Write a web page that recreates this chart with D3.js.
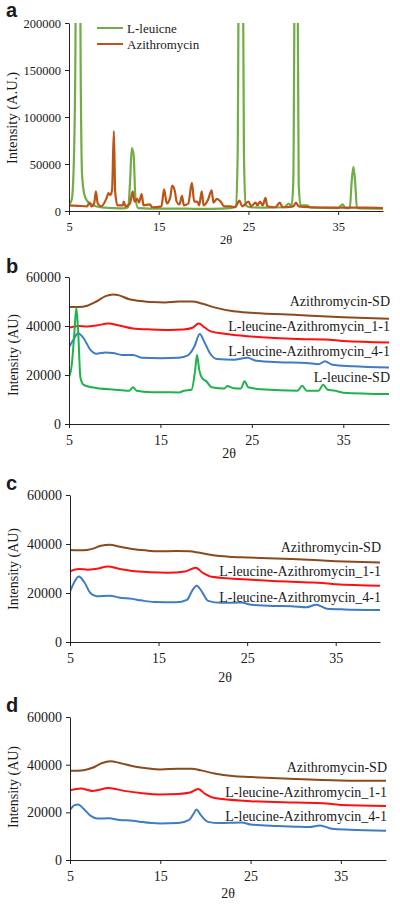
<!DOCTYPE html>
<html><head><meta charset="utf-8">
<script src="https://cdn.jsdelivr.net/npm/d3@7"></script>
<style>
html,body{margin:0;padding:0;background:#fff;}
svg{display:block;}
text{font-family:"Liberation Serif","Times New Roman",serif;fill:#1a1a1a;}
</style></head>
<body>
<svg id="chart" width="400" height="906"></svg>
<script>
// ---------- DATA ----------
const xTicks = [5, 15, 25, 35];
const yTicksA = [0, 50000, 100000, 150000, 200000];
const yTicksBCD = [0, 20000, 40000, 60000];
const panelLetters = ["a", "b", "c", "d"];
const legendA = ["L-leuicne", "Azithromycin"];
const seriesNamesB = ["Azithromycin-SD", "L-leucine-Azithromycin_1-1", "L-leucine-Azithromycin_4-1", "L-leucine-SD"];
const seriesNamesCD = ["Azithromycin-SD", "L-leucine-Azithromycin_1-1", "L-leucine-Azithromycin_4-1"];

// Panel a: raw powders [2θ, intensity]
const aLeucine = [[5,7000],[5.3,12000],[5.5,40000],[5.7,150000],[5.85,400000],[6.15,400000],[6.3,150000],[6.45,40000],[6.7,18000],[7.0,11000],[7.5,7000],[8,5000],[9,3500],[10,3000],[11,2800],[11.6,4000],[11.8,30000],[12.0,67000],[12.2,60000],[12.4,15000],[12.7,3000],[14,2500],[16,2500],[18,2500],[20,2200],[22,2500],[23,3000],[23.6,5000],[23.8,60000],[24.0,400000],[24.3,400000],[24.5,60000],[24.7,6000],[25.2,4000],[27,3500],[29,4000],[29.5,8000],[29.8,5000],[30.0,30000],[30.2,300000],[30.45,300000],[30.6,30000],[30.8,6000],[31.5,6000],[32,3500],[35,3000],[35.5,7000],[35.8,3000],[36.3,3000],[36.5,30000],[36.7,47000],[36.9,30000],[37.1,3000],[40,2500]];
const aAzithro = [[5,6000],[6,5500],[7,5000],[7.3,9000],[7.5,5000],[7.8,8000],[8.0,21000],[8.2,8000],[8.6,5000],[9.2,14000],[9.4,19000],[9.6,17000],[9.8,22000],[10.0,85000],[10.15,20000],[10.4,6000],[11.0,6000],[11.1,10000],[11.3,5000],[11.8,8000],[12.1,21000],[12.3,10000],[12.6,13000],[12.8,9000],[13.1,18000],[13.3,6000],[14.0,7000],[14.3,4000],[15.3,5000],[15.6,23000],[15.9,8000],[16.3,15000],[16.5,27000],[16.8,21000],[17.0,10000],[17.3,7000],[17.6,16000],[17.8,6000],[18.3,8000],[18.7,30000],[18.95,10000],[19.3,10000],[19.5,6000],[19.8,21000],[20.0,6000],[20.5,12000],[20.9,22000],[21.1,9000],[21.5,13000],[21.9,10000],[22.3,5000],[23,5000],[23.5,4000],[24.0,11000],[24.3,5000],[25.0,10000],[25.3,5000],[25.8,9000],[26.0,6000],[26.3,10000],[26.6,6000],[26.9,14000],[27.1,5000],[28,4000],[28.5,9000],[28.8,4000],[30,5000],[30.3,9000],[30.6,5000],[32,4000],[34,3500],[36,3500],[38,3500],[40,3000]];

// Panel b
const bAzithroSD = [[5,47800],[6,47800],[7,48300],[8,50000],[9,52200],[9.8,52900],[10.5,52500],[11.5,51000],[12.5,50300],[14,49800],[15.5,49600],[17,50000],[18.5,50000],[19.5,49200],[21,47500],[23,46000],[25,45400],[30,44500],[35,43600],[40,43000]];
const bLeuAzi11 = [[5,39300],[6,40000],[7,39800],[8,40200],[9.3,41000],[10.5,40200],[12,39000],[14,38600],[16,38400],[17.5,38600],[18.5,39300],[19.2,41000],[19.8,39500],[20.5,37800],[22,36800],[25,35700],[28,35000],[30,34700],[33,34500],[35,33900],[40,33300]];
const bLeuAzi41 = [[5,31300],[5.5,34500],[6.0,37000],[6.6,35000],[7.3,30500],[8,28700],[9,29200],[9.8,29000],[10.8,28200],[12,28200],[13,27000],[15,26800],[17,27000],[18,28000],[18.7,31500],[19.3,36700],[19.8,33500],[20.4,29000],[21.2,26500],[23,26200],[24.5,27000],[25.5,25800],[28,25200],[31,24900],[32.3,24400],[33,25600],[33.8,24200],[36,23600],[40,23100]];
const bLeucineSD = [[5,19000],[5.3,24000],[5.6,38000],[5.8,47300],[6.0,38000],[6.25,19000],[6.6,16000],[7.5,15000],[10,14000],[11.6,13600],[12,15000],[12.4,13600],[14,13000],[17,12900],[17.6,13600],[18.4,14000],[18.8,22000],[19.0,28200],[19.25,22000],[19.6,18500],[20,17500],[20.6,15000],[22,14500],[22.3,15500],[23,14600],[23.8,14500],[24.2,17500],[24.6,15000],[26,14200],[30,13600],[30.5,15600],[31,13600],[32.3,13600],[32.8,16000],[33.3,14000],[34,13700],[35,12800],[40,12200]];

// Panel c
const cAzithroSD = [[5,37600],[6.5,37400],[7.5,38000],[8.5,39300],[9.5,39700],[10.5,39000],[12,38000],[13.5,37400],[15,37000],[17,37100],[18.5,37000],[19.5,36500],[21,35500],[23,34800],[25,34500],[30,33900],[35,33000],[40,32400]];
const cLeuAzi11 = [[5,28800],[6,29800],[7,29500],[8,29900],[9.3,30800],[10.5,29900],[12,29000],[14,28500],[16,28300],[18,28800],[19.2,30300],[20,28200],[21,26600],[25,25500],[30,24600],[32,24300],[33,24200],[35,23600],[40,23000]];
const cLeuAzi41 = [[5,20600],[5.5,24500],[6.0,26700],[6.6,24500],[7.3,20000],[8,18700],[9.5,18900],[10.5,18200],[12,17600],[13,17000],[14.5,16300],[17,16200],[18.2,17200],[18.8,21000],[19.3,23000],[19.9,20500],[20.6,16800],[22,16000],[24.3,16100],[25.5,15200],[28,14700],[30,14600],[31.7,14200],[32.8,15200],[34,13600],[36,13300],[40,13100]];

// Panel d
const dAzithroSD = [[5,37400],[6.5,37700],[7.5,38700],[8.5,40600],[9.5,41400],[10.5,40700],[12,39300],[13.5,38500],[15,38000],[17,38300],[18.5,38300],[19.5,37600],[21,36300],[23,35200],[25,34800],[30,34000],[35,33400],[40,33200]];
const dLeuAzi11 = [[5,29300],[6.2,30000],[7.5,29000],[9.3,30200],[11,29000],[13,28000],[15,27500],[17,27700],[18.3,28300],[19.2,29800],[20,27600],[21,26000],[25,24700],[30,24100],[33,23800],[35,23100],[40,22700]];
const dLeuAzi41 = [[5,20900],[5.5,23000],[5.9,23300],[6.5,21500],[7.3,18500],[8,17400],[9.3,17500],[10.5,16800],[12,16500],[13,15900],[15,15300],[17,15500],[18.2,16800],[18.7,19500],[19.0,21200],[19.5,18800],[20.3,16000],[21.5,15500],[24,15700],[25,14900],[28,14300],[30,14000],[31.5,13800],[32.7,14500],[34,13100],[36,12700],[40,12300]];

// ---------- DRAW ----------
const svg = d3.select("#chart");
const AX = "#222";

function drawPanel(p) {
  const x = d3.scaleLinear().domain([5, 40]).range([p.x0, p.x1]);
  const y = d3.scaleLinear().domain([0, p.yMax]).range([p.yb, p.yt]);
  const g = svg.append("g");
  const clipId = "clip" + p.letter;
  svg.append("clipPath").attr("id", clipId).append("rect")
    .attr("x", p.x0).attr("y", p.yt).attr("width", p.x1 - p.x0 + 2).attr("height", p.yb - p.yt);

  const line = d3.line().x(d => x(d[0])).y(d => y(d[1])).curve(d3.curveMonotoneX);
  p.series.forEach(s => {
    g.append("path").datum(s.data).attr("d", line)
      .attr("fill", "none").attr("stroke", s.color).attr("stroke-width", p.lw)
      .attr("stroke-linejoin", "round").attr("clip-path", `url(#${clipId})`);
  });

  const xa = g.append("g").attr("transform", `translate(0,${p.yb})`)
    .call(d3.axisBottom(x).tickValues(xTicks).tickSize(4).tickPadding(7).tickSizeOuter(0));
  const ya = g.append("g").attr("transform", `translate(${p.x0},0)`)
    .call(d3.axisLeft(y).tickValues(p.yTicks).tickSize(4).tickPadding(4).tickSizeOuter(0).tickFormat(d3.format("d")));
  [xa, ya].forEach(a => {
    a.selectAll("path,line").attr("stroke", AX).attr("stroke-width", 1);
    a.selectAll("text").attr("font-family", '"Liberation Serif",serif').attr("font-size", p.fs).attr("fill", "#1a1a1a");
  });
  g.append("text").attr("x", (p.x0 + p.x1) / 2).attr("y", p.xTitleY).attr("text-anchor", "middle")
    .attr("font-size", p.fs).text("2θ");
  g.append("text").attr("transform", `translate(${p.yTitleX},${p.yTitleCY}) rotate(-90)`)
    .attr("text-anchor", "middle").attr("dominant-baseline", "central").attr("font-size", p.yfs).text(p.yTitle);
  g.append("text").attr("x", 6).attr("y", p.letterY)
    .style("font-family", '"Liberation Sans",Arial,sans-serif').attr("font-weight", "bold").attr("font-size", 20)
    .attr("fill", "#000").text(p.letter);

  if (p.labels) {
    p.labels.forEach(l => {
      g.append("text").attr("x", p.x1 + 1).attr("y", l.y).attr("text-anchor", "end")
        .attr("dominant-baseline", "central").attr("font-size", 14).text(l.text);
    });
  }
  if (p.legend) {
    p.legend.forEach(l => {
      g.append("line").attr("x1", 97).attr("x2", 123).attr("y1", l.y).attr("y2", l.y)
        .attr("stroke", l.color).attr("stroke-width", 2);
      g.append("text").attr("x", 127).attr("y", l.y).attr("dominant-baseline", "central")
        .attr("font-size", 13).text(l.text);
    });
  }
}

const cBrownA = "#bd5316", cGreenA = "#70ad47";
const cBrown = "#8b4a1c", cRed = "#ff1010", cBlue = "#3f7cc4", cGreen = "#1db34a";

drawPanel({letter: panelLetters[0], x0: 69, x1: 383, yb: 211, yt: 23, yMax: 200000, yTicks: yTicksA, fs: 12.5, yfs: 14.5, lw: 2.2,
  xTitleY: 244, yTitle: "Intensity (A.U.)", yTitleX: 12, yTitleCY: 118, letterY: 17,
  series: [{data: aLeucine, color: cGreenA}, {data: aAzithro, color: cBrownA}],
  legend: [{text: legendA[0], color: cGreenA, y: 28}, {text: legendA[1], color: cBrownA, y: 44}]});

drawPanel({letter: panelLetters[1], x0: 69, x1: 389, yb: 424, yt: 277, yMax: 60000, yTicks: yTicksBCD, fs: 14, yfs: 14, lw: 2,
  xTitleY: 458, yTitle: "Intensity (AU)", yTitleX: 13, yTitleCY: 355, letterY: 273,
  series: [{data: bAzithroSD, color: cBrown}, {data: bLeuAzi11, color: cRed}, {data: bLeuAzi41, color: cBlue}, {data: bLeucineSD, color: cGreen}],
  labels: [{text: seriesNamesB[0], y: 301}, {text: seriesNamesB[1], y: 326}, {text: seriesNamesB[2], y: 351}, {text: seriesNamesB[3], y: 377}]});

drawPanel({letter: panelLetters[2], x0: 70, x1: 380, yb: 642, yt: 495, yMax: 60000, yTicks: yTicksBCD, fs: 14, yfs: 14, lw: 2,
  xTitleY: 682, yTitle: "Intensity (AU)", yTitleX: 13, yTitleCY: 569, letterY: 490,
  series: [{data: cAzithroSD, color: cBrown}, {data: cLeuAzi11, color: cRed}, {data: cLeuAzi41, color: cBlue}],
  labels: [{text: seriesNamesCD[0], y: 547}, {text: seriesNamesCD[1], y: 571}, {text: seriesNamesCD[2], y: 597}]});

drawPanel({letter: panelLetters[3], x0: 70, x1: 386, yb: 860, yt: 717, yMax: 60000, yTicks: yTicksBCD, fs: 14, yfs: 14, lw: 2,
  xTitleY: 898, yTitle: "Intensity (AU)", yTitleX: 13, yTitleCY: 787, letterY: 712,
  series: [{data: dAzithroSD, color: cBrown}, {data: dLeuAzi11, color: cRed}, {data: dLeuAzi41, color: cBlue}],
  labels: [{text: seriesNamesCD[0], y: 767}, {text: seriesNamesCD[1], y: 792}, {text: seriesNamesCD[2], y: 816}]});
</script>
</body></html>
